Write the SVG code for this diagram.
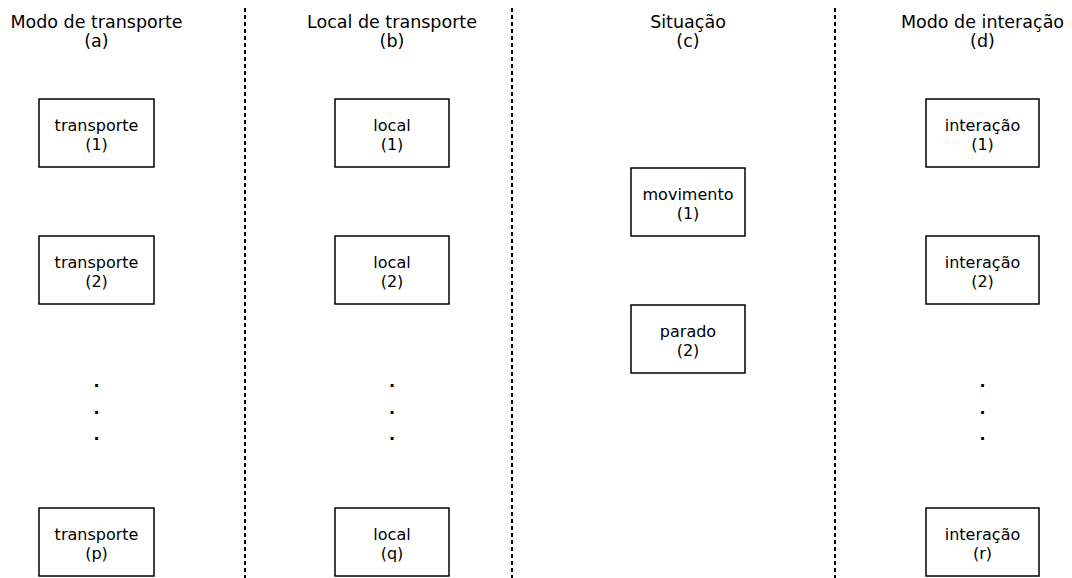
<svg xmlns="http://www.w3.org/2000/svg" width="1072" height="578" viewBox="0 0 1072 578">
<style>
.hd{font-family:"DejaVu Sans",Verdana,sans-serif;font-size:17.5px;fill:#000;text-anchor:middle}
.bx{font-family:"DejaVu Sans",Verdana,sans-serif;font-size:16px;fill:#000;text-anchor:middle}
.dot{font-family:"DejaVu Sans",Verdana,sans-serif;font-size:16px;font-weight:bold;fill:#000;text-anchor:middle}
.box{fill:#fff;stroke:#000;stroke-width:1.5}
.sep{stroke:#000;stroke-width:2;stroke-dasharray:4 3;fill:none}
</style>
<rect width="1072" height="578" fill="#fff"/>
<g id="connectors">
<line class="sep" x1="245" y1="8" x2="245" y2="578"/>
<line class="sep" x1="512" y1="8" x2="512" y2="578"/>
<line class="sep" x1="835" y1="8" x2="835" y2="578"/>
</g>
<g id="headers">
<text class="hd" x="96.5" y="28">Modo de transporte</text>
<text class="hd" x="96.5" y="47">(a)</text>
<text class="hd" x="392" y="28">Local de transporte</text>
<text class="hd" x="392" y="47">(b)</text>
<text class="hd" x="688" y="28">Situação</text>
<text class="hd" x="688" y="47">(c)</text>
<text class="hd" x="982.5" y="28">Modo de interação</text>
<text class="hd" x="982.5" y="47">(d)</text>
</g>
<g id="t1"><rect class="box" x="39" y="99" width="115" height="68"/><text class="bx" x="96.5" y="131">transporte</text><text class="bx" x="96.5" y="150">(1)</text></g>
<g id="t2"><rect class="box" x="39" y="236" width="115" height="68"/><text class="bx" x="96.5" y="268">transporte</text><text class="bx" x="96.5" y="287">(2)</text></g>
<g id="tp"><rect class="box" x="39" y="508" width="115" height="68"/><text class="bx" x="96.5" y="540">transporte</text><text class="bx" x="96.5" y="559">(p)</text></g>
<g id="l1"><rect class="box" x="335" y="99" width="114" height="68"/><text class="bx" x="392" y="131">local</text><text class="bx" x="392" y="150">(1)</text></g>
<g id="l2"><rect class="box" x="335" y="236" width="114" height="68"/><text class="bx" x="392" y="268">local</text><text class="bx" x="392" y="287">(2)</text></g>
<g id="lq"><rect class="box" x="335" y="508" width="114" height="68"/><text class="bx" x="392" y="540">local</text><text class="bx" x="392" y="559">(q)</text></g>
<g id="s1"><rect class="box" x="631" y="168" width="114" height="68"/><text class="bx" x="688" y="200">movimento</text><text class="bx" x="688" y="219">(1)</text></g>
<g id="s2"><rect class="box" x="631" y="305" width="114" height="68"/><text class="bx" x="688" y="337">parado</text><text class="bx" x="688" y="356">(2)</text></g>
<g id="i1"><rect class="box" x="926" y="99" width="113" height="68"/><text class="bx" x="982.5" y="131">interação</text><text class="bx" x="982.5" y="150">(1)</text></g>
<g id="i2"><rect class="box" x="926" y="236" width="113" height="68"/><text class="bx" x="982.5" y="268">interação</text><text class="bx" x="982.5" y="287">(2)</text></g>
<g id="ir"><rect class="box" x="926" y="508" width="113" height="68"/><text class="bx" x="982.5" y="540">interação</text><text class="bx" x="982.5" y="559">(r)</text></g>
<g id="dots">
<text class="dot" x="96.5" y="387">.</text><text class="dot" x="96.5" y="414">.</text><text class="dot" x="96.5" y="440">.</text>
<text class="dot" x="392" y="387">.</text><text class="dot" x="392" y="414">.</text><text class="dot" x="392" y="440">.</text>
<text class="dot" x="982.5" y="387">.</text><text class="dot" x="982.5" y="414">.</text><text class="dot" x="982.5" y="440">.</text>
</g>
</svg>
